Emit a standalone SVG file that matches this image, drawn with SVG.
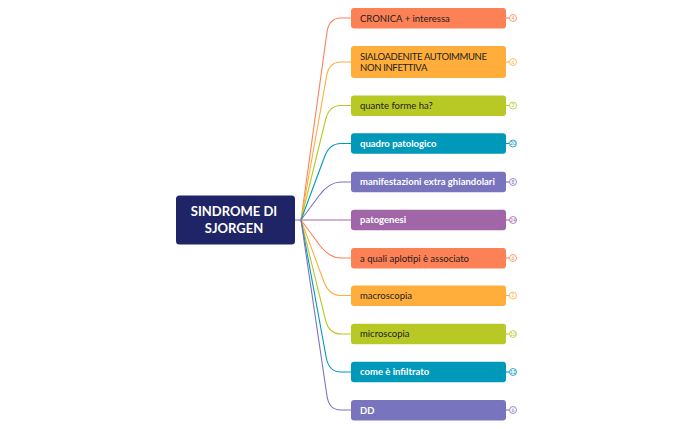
<svg xmlns="http://www.w3.org/2000/svg" width="693" height="429" viewBox="0 0 693 429">
<style>
.box{stroke:none}
.t{font-family:Lato,"Open Sans","Liberation Sans",sans-serif;font-size:9.5px}
.dk{fill:#1d1d1d}
.wt{fill:#ffffff;font-weight:bold}
.caps{letter-spacing:-0.35px}
.c{fill:none;stroke-width:1.1}
.cnt{font-family:Lato,"Liberation Sans",sans-serif;font-size:5px;text-anchor:middle}
.cir{fill:#ffffff;stroke-width:0.8}
.root{font-family:Lato,"Liberation Sans",sans-serif;font-size:13px;font-weight:bold;fill:#ffffff;text-anchor:middle}
</style>
<rect width="693" height="429" fill="#ffffff"/>
<g id="connectors">
<path class="c" stroke="#7874be" d="M295,220 L301,220"/>
<path class="c" stroke="#fc8157" d="M301,220 L327,32 Q329,18 341,18 L351,18"/>
<path class="c" stroke="#ffae3b" d="M301,220 L326.6,76 Q329,62 341,62 L351,62"/>
<path class="c" stroke="#b8c926" d="M301,220 L325.6,119.5 Q329,105.5 341,105.5 L351,105.5"/>
<path class="c" stroke="#0099b9" d="M301,220 L324.3,157.5 Q329,143.5 341,143.5 L351,143.5"/>
<path class="c" stroke="#7874be" d="M301,220 L318.8,196 Q329,182 341,182 L351,182"/>
<path class="c" stroke="#a066a8" d="M301,220 L351,220"/>
<path class="c" stroke="#fc8157" d="M301,220 L318.8,244 Q329,258 341,258 L351,258"/>
<path class="c" stroke="#ffae3b" d="M301,220 L323.8,281.5 Q329,295.5 341,295.5 L351,295.5"/>
<path class="c" stroke="#b8c926" d="M301,220 L325.5,320 Q329,334 341,334 L351,334"/>
<path class="c" stroke="#0099b9" d="M301,220 L326.3,358 Q329,372 341,372 L351,372"/>
<path class="c" stroke="#7874be" d="M301,220 L327,396 Q329,410 341,410 L351,410"/>
</g>
<g id="root">
<rect x="176" y="195.5" width="119" height="49" rx="3.5" fill="#1f2466"/>
<text class="root" x="234" y="216">SINDROME DI</text>
<text class="root" x="234" y="233">SJORGEN</text>
</g>
<g id="n1">
<rect class="box" x="351" y="8" width="155" height="20.5" rx="3" fill="#fc8157"/>
<text class="t dk" x="360" y="21.5">CRONICA + interessa</text>
<path class="c" stroke="#fc8157" d="M506,18 L509.5,18"/><circle class="cir" stroke="#fc8157" cx="513" cy="18" r="3.5"/><text class="cnt" fill="#fc8157" x="513" y="19.8">4</text>
</g>
<g id="n2">
<rect class="box" x="351" y="46" width="155" height="32" rx="3" fill="#ffae3b"/>
<text class="t dk caps" x="360" y="59.5">SIALOADENITE AUTOIMMUNE</text>
<text class="t dk caps" x="360" y="70.7">NON INFETTIVA</text>
<path class="c" stroke="#ffae3b" d="M506,62 L509.5,62"/><circle class="cir" stroke="#ffae3b" cx="513" cy="62" r="3.5"/><text class="cnt" fill="#ffae3b" x="513" y="63.8">6</text>
</g>
<g id="n3">
<rect class="box" x="351" y="95.5" width="155" height="20.5" rx="3" fill="#b8c926"/>
<text class="t dk" x="360" y="109">quante forme ha?</text>
<path class="c" stroke="#b8c926" d="M506,105.5 L509.5,105.5"/><circle class="cir" stroke="#b8c926" cx="513" cy="105.5" r="3.5"/><text class="cnt" fill="#b8c926" x="513" y="107.3">3</text>
</g>
<g id="n4">
<rect class="box" x="351" y="133.3" width="155" height="20.5" rx="3" fill="#0099b9"/>
<text class="t wt" x="360" y="146.8">quadro patologico</text>
<path class="c" stroke="#0099b9" d="M506,143.5 L509.5,143.5"/><circle class="cir" stroke="#0099b9" cx="513" cy="143.5" r="3.5"/><text class="cnt" fill="#0099b9" x="513" y="145.3">20</text>
</g>
<g id="n5">
<rect class="box" x="351" y="171.7" width="155" height="20.5" rx="3" fill="#7874be"/>
<text class="t wt" x="360" y="185.2">manifestazioni extra ghiandolari</text>
<path class="c" stroke="#7874be" d="M506,182 L509.5,182"/><circle class="cir" stroke="#7874be" cx="513" cy="182" r="3.5"/><text class="cnt" fill="#7874be" x="513" y="183.8">8</text>
</g>
<g id="n6">
<rect class="box" x="351" y="209.8" width="155" height="20.5" rx="3" fill="#a066a8"/>
<text class="t wt" x="360" y="223.3">patogenesi</text>
<path class="c" stroke="#a066a8" d="M506,220 L509.5,220"/><circle class="cir" stroke="#a066a8" cx="513" cy="220" r="3.5"/><text class="cnt" fill="#a066a8" x="513" y="221.8">24</text>
</g>
<g id="n7">
<rect class="box" x="351" y="248" width="155" height="20.5" rx="3" fill="#fc8157"/>
<text class="t dk" x="360" y="261.5">a quali aplotipi è associato</text>
<path class="c" stroke="#fc8157" d="M506,258 L509.5,258"/><circle class="cir" stroke="#fc8157" cx="513" cy="258" r="3.5"/><text class="cnt" fill="#fc8157" x="513" y="259.8">6</text>
</g>
<g id="n8">
<rect class="box" x="351" y="285.5" width="155" height="20.5" rx="3" fill="#ffae3b"/>
<text class="t dk" x="360" y="299">macroscopia</text>
<path class="c" stroke="#ffae3b" d="M506,295.5 L509.5,295.5"/><circle class="cir" stroke="#ffae3b" cx="513" cy="295.5" r="3.5"/><text class="cnt" fill="#ffae3b" x="513" y="297.3">1</text>
</g>
<g id="n9">
<rect class="box" x="351" y="323.7" width="155" height="20.5" rx="3" fill="#b8c926"/>
<text class="t dk" x="360" y="337.2">microscopia</text>
<path class="c" stroke="#b8c926" d="M506,334 L509.5,334"/><circle class="cir" stroke="#b8c926" cx="513" cy="334" r="3.5"/><text class="cnt" fill="#b8c926" x="513" y="335.8">10</text>
</g>
<g id="n10">
<rect class="box" x="351" y="361.7" width="155" height="20.5" rx="3" fill="#0099b9"/>
<text class="t wt" x="360" y="375.2">come è infiltrato</text>
<path class="c" stroke="#0099b9" d="M506,372 L509.5,372"/><circle class="cir" stroke="#0099b9" cx="513" cy="372" r="3.5"/><text class="cnt" fill="#0099b9" x="513" y="373.8">12</text>
</g>
<g id="n11">
<rect class="box" x="351" y="400" width="155" height="20.5" rx="3" fill="#7874be"/>
<text class="t wt" x="360" y="413.5">DD</text>
<path class="c" stroke="#7874be" d="M506,410 L509.5,410"/><circle class="cir" stroke="#7874be" cx="513" cy="410" r="3.5"/><text class="cnt" fill="#7874be" x="513" y="411.8">6</text>
</g>
</svg>
